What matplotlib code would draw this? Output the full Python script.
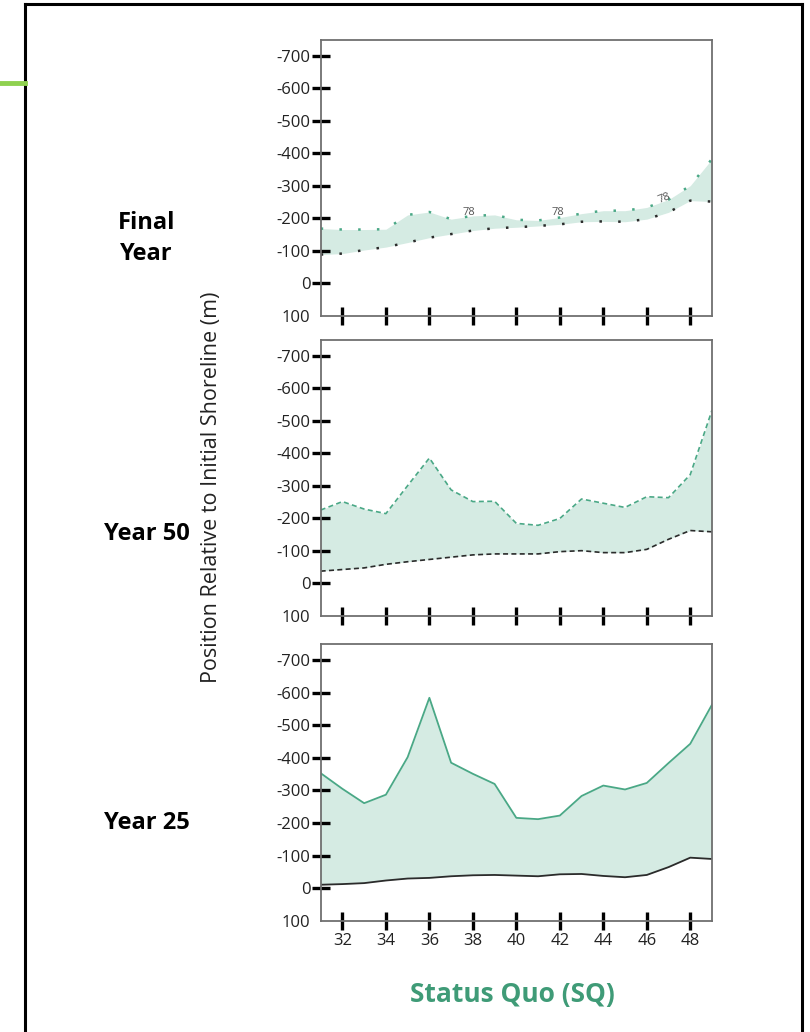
import numpy as np
import matplotlib
matplotlib.use("Agg")
import matplotlib.pyplot as plt
from matplotlib.lines import Line2D

# =========================
# Data
# =========================

transects = list(range(31, 50))

final_landward = [-169, -166, -166, -167, -211, -220, -198, -208, -211, -196,
                  -194, -203, -215, -224, -224, -234, -258, -301, -383]
final_seaward = [-89, -92, -103, -112, -126, -141, -152, -163, -170, -173,
                 -177, -182, -190, -191, -190, -198, -219, -255, -252]

y50_landward = [-226, -252, -229, -215, -301, -386, -288, -252, -253, -185,
                -179, -200, -260, -247, -234, -267, -264, -335, -533]
y50_seaward = [-38, -43, -48, -59, -67, -74, -81, -88, -91, -91,
               -91, -98, -101, -95, -95, -105, -136, -163, -159]

y25_landward = [-353, -305, -261, -287, -402, -584, -385, -351, -320, -216,
                -212, -223, -283, -315, -303, -323, -384, -443, -563]
y25_seaward = [-11, -13, -16, -24, -30, -32, -37, -40, -41, -39,
               -37, -43, -44, -38, -34, -41, -65, -94, -90]

panel_names = ["Final\nYear", "Year 50", "Year 25"]
contour_labels = ["78", "78", "78"]
contour_x = [37.8, 41.9, 46.8]
contour_y = [-218, -218, -261]

y_ticks = list(range(-700, 101, 100))
x_ticks = list(range(32, 49, 2))

GREEN = "#4aa886"
FILL = "#d5ebe3"
TITLE_GREEN = "#3f9b77"

plt.rcParams["font.family"] = ["Open Sans", "DejaVu Sans"]

fig = plt.figure(figsize=(8.1, 10.32), dpi=100)

# panel boxes (left, bottom, width, height) in figure fractions
boxes = [
    [0.3959, 0.6938, 0.4831, 0.2674],
    [0.3959, 0.4031, 0.4831, 0.2674],
    [0.3959, 0.1076, 0.4831, 0.2684],
]

panels = [
    (final_landward, final_seaward, (0, (1, 6.5)), 1.8),
    (y50_landward, y50_seaward, (0, (3, 2)), 1.2),
    (y25_landward, y25_seaward, "-", 1.3),
]

label_y = [0.769, 0.483, 0.203]

for i, (upper, lower, ls, lw) in enumerate(panels):
    ax = fig.add_axes(boxes[i])
    ax.fill_between(transects, upper, lower, color=FILL, lw=0, zorder=1)
    ax.plot(transects, upper, color=GREEN, ls=ls, lw=lw, zorder=2)
    ax.plot(transects, lower, color="#2b2b2b", ls=ls, lw=lw, zorder=2)

    ax.set_xlim(31, 49)
    ax.set_ylim(100, -749)
    ax.set_yticks(y_ticks)
    ax.set_yticklabels([str(v) for v in y_ticks])
    ax.set_xticks(x_ticks)
    if i == 2:
        ax.set_xticklabels([str(v) for v in x_ticks])
    else:
        ax.set_xticklabels([])

    ax.tick_params(axis="both", direction="inout", length=13, width=2.4,
                   color="black", labelsize=12, labelcolor="#222222")
    ax.tick_params(axis="y", pad=1)
    ax.tick_params(axis="x", pad=2)
    # no tick mark at the +100 row, just the label
    ax.yaxis.get_major_ticks()[-1].tick1line.set_visible(False)

    for s in ax.spines.values():
        s.set_color("#6f6f6f")
        s.set_linewidth(1.3)

    fig.text(0.181, label_y[i], panel_names[i], ha="center", va="center",
             fontsize=17, fontweight="bold", linespacing=1.4)

    if i == 0:
        for txt, cx, cy, rot in zip(contour_labels, contour_x, contour_y, [0, 0, 22]):
            ax.text(cx, cy, txt, fontsize=8, color="#555555", ha="center",
                    va="center", rotation=rot, zorder=3)

# =========================
# Shared labels
# =========================
fig.text(0.2605, 0.528, "Position Relative to Initial Shoreline (m)",
         rotation=90, ha="center", va="center", fontsize=15.5, color="#222222")

fig.text(0.632, 0.036, "Status Quo (SQ)", ha="center", va="center",
         fontsize=19, fontweight="bold", color=TITLE_GREEN)

# outer frame and the green marker on the left edge
W, H = 810, 1032
fig.add_artist(Line2D([25 / W, 25 / W], [0, 1 - 4 / H], color="black", lw=2.2))
fig.add_artist(Line2D([25 / W, 802 / W], [1 - 4 / H, 1 - 4 / H], color="black", lw=2.2))
fig.add_artist(Line2D([802 / W, 802 / W], [0, 1 - 4 / H], color="black", lw=2.2))
fig.add_artist(Line2D([0, 25 / W], [1 - 83 / H, 1 - 83 / H], color="#8fd14f", lw=3.5))

fig.savefig("out.png", dpi=100)
